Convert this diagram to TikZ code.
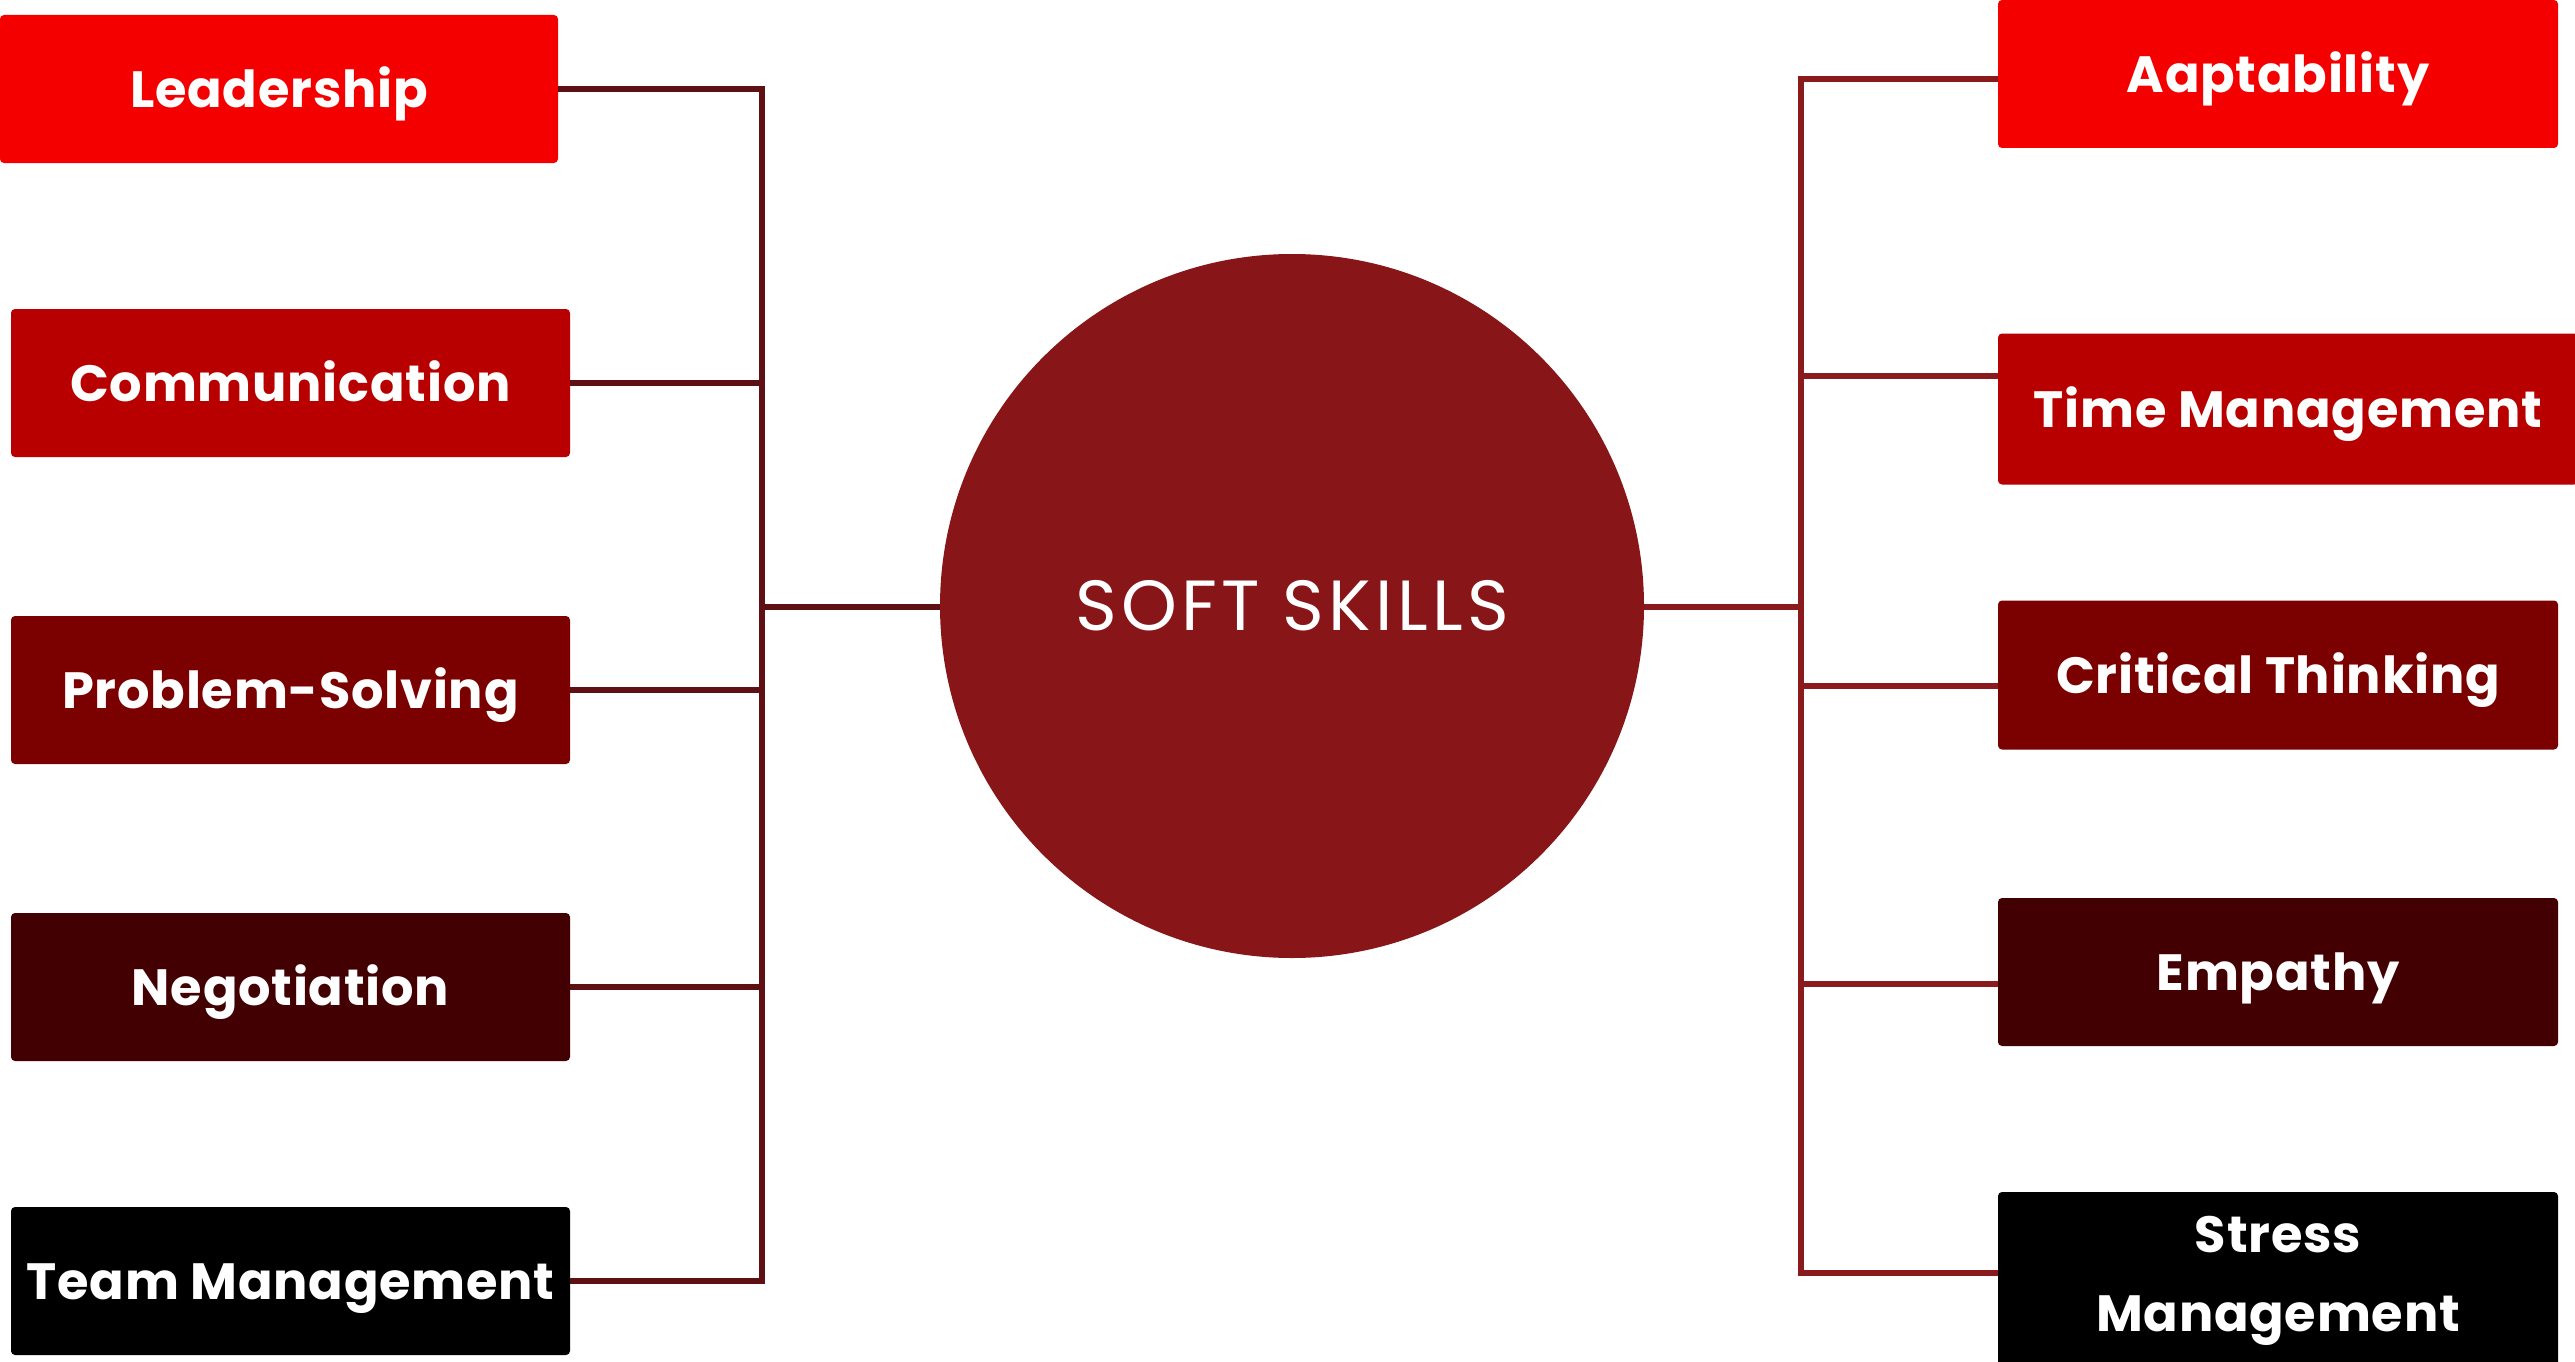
\documentclass[tikz,border=0pt]{standalone}
\usepackage{fontspec}
\setmainfont{Poppins}
\newfontfamily\boxfont[LetterSpace=1.5]{Poppins}
\newfontfamily\titlefont[LetterSpace=6]{Poppins}
\definecolor{cA}{HTML}{F50000}
\definecolor{cB}{HTML}{B80000}
\definecolor{cC}{HTML}{7B0000}
\definecolor{cD}{HTML}{420003}
\definecolor{cE}{HTML}{000000}
\definecolor{circ}{HTML}{881618}
\definecolor{lineL}{HTML}{5E1014}
\definecolor{lineR}{HTML}{8A1A1C}
\begin{document}
\begin{tikzpicture}[x=1pt,y=-1pt,
  skillbase/.style={rectangle, rounded corners=4pt, minimum width=559pt, minimum height=148pt,
    inner sep=0pt, text=white, font=\boxfont\bfseries\fontsize{51}{79}\selectfont, align=center},
  skill/.style={skillbase, text height=37pt, text depth=0pt},
  linkL/.style={draw=lineL, line width=6pt},
  linkR/.style={draw=lineR, line width=6pt}]
\useasboundingbox (0,0) rectangle (2575,1362);
% centre
\node[circle, fill=circ, minimum size=704pt, inner sep=0pt, text=white,
  font=\titlefont\fontsize{71}{80}\selectfont] (c) at (1292,606) {SOFT SKILLS};
% left boxes
\node[skill, fill=cA, minimum width=558pt] (l1) at (279,89) {Leadership};
\node[skill, fill=cB] (l2) at (290.5,383) {Communication};
\node[skill, fill=cC] (l3) at (290.5,690) {Problem-Solving};
\node[skill, fill=cD] (l4) at (290.5,987) {Negotiation};
\node[skill, fill=cE] (l5) at (290.5,1281) {Team Management};
% right boxes
\node[skill, fill=cA, minimum width=560pt] (r1) at (2278,74) {Aaptability};
\node[skill, fill=cB, minimum width=580pt, minimum height=151pt] (r2) at (2288,409) {Time Management};
\node[skill, fill=cC, minimum width=560pt, minimum height=149pt] (r3) at (2278,675) {Critical Thinking};
\node[skill, fill=cD, minimum width=560pt] (r4) at (2278,972) {Empathy};
\node[skillbase, fill=cE, minimum width=560pt, minimum height=178pt] (r5) at (2278,1281) {Stress\\Management};
% trunk coordinates
\coordinate (lt1) at (762,89);
\coordinate (lt2) at (762,383);
\coordinate (lt3) at (762,690);
\coordinate (lt4) at (762,987);
\coordinate (lt5) at (762,1281);
\coordinate (lc) at (762,607);
\coordinate (rt1) at (1801,79);
\coordinate (rt2) at (1801,376);
\coordinate (rt3) at (1801,686);
\coordinate (rt4) at (1801,984);
\coordinate (rt5) at (1801,1273);
\coordinate (rc) at (1801,607);
% left connectors
\draw[linkL] (l1.east) -- (lt1) -- (lt5) -- (l5.east);
\draw[linkL] (l2.east) -- (lt2);
\draw[linkL] (l3.east) -- (lt3);
\draw[linkL] (l4.east) -- (lt4);
\draw[linkL] (lc) -- (lc -| c.west);
% right connectors
\draw[linkR] (rt1 -| r1.west) -- (rt1) -- (rt5) -- (rt5 -| r5.west);
\draw[linkR] (rt2) -- (rt2 -| r2.west);
\draw[linkR] (rt3) -- (rt3 -| r3.west);
\draw[linkR] (rt4) -- (rt4 -| r4.west);
\draw[linkR] (rc -| c.east) -- (rc);
\end{tikzpicture}
\end{document}
